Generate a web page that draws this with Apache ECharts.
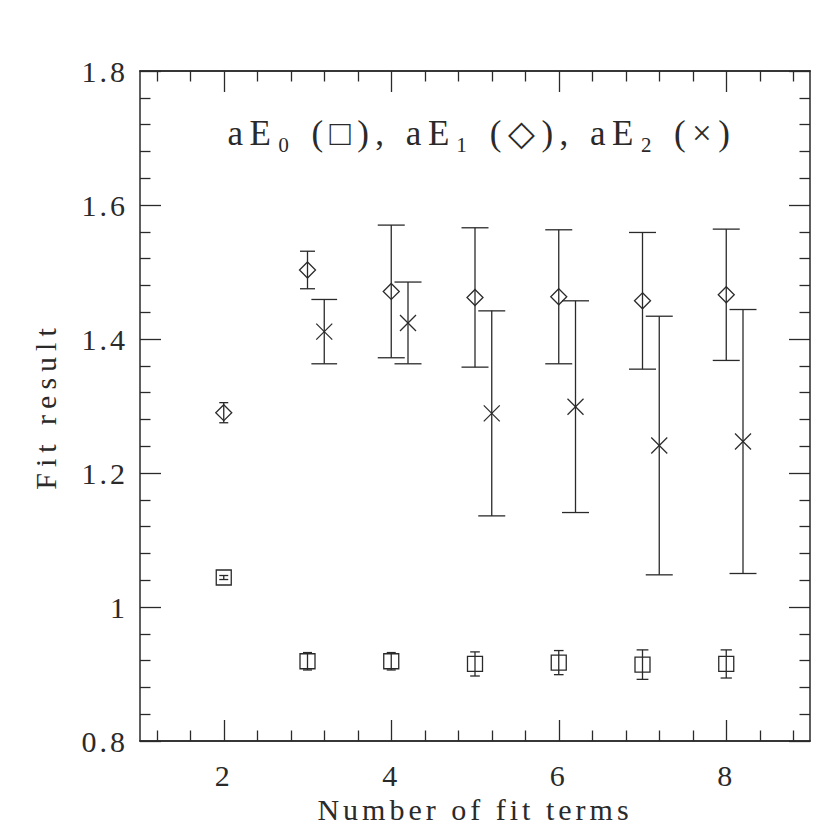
<!DOCTYPE html>
<html><head><meta charset="utf-8">
<script src="https://cdn.jsdelivr.net/npm/echarts@6/dist/echarts.min.js"></script>
<style>html,body{margin:0;padding:0;background:#fff}#c{width:830px;height:830px}</style>
</head><body><div id="c"></div>
<script>
// ---- data ----
const e0Terms = [2, 3, 4, 5, 6, 7, 8];
const e0Val   = [1.044, 0.919, 0.919, 0.915, 0.917, 0.914, 0.915];
const e0Err   = [0.003, 0.013, 0.013, 0.018, 0.018, 0.022, 0.021];

const e1Terms = [2, 3, 4, 5, 6, 7, 8];
const e1Val   = [1.290, 1.503, 1.471, 1.462, 1.463, 1.457, 1.466];
const e1Err   = [0.015, 0.028, 0.099, 0.104, 0.100, 0.102, 0.098];

const e2Terms = [3.2, 4.2, 5.2, 6.2, 7.2, 8.2];
const e2Val   = [1.411, 1.424, 1.289, 1.299, 1.241, 1.247];
const e2Err   = [0.048, 0.061, 0.153, 0.158, 0.193, 0.197];

const xMajorTicks = [2, 4, 6, 8];
const xMinorTicks = [1.2, 1.6, 2.4, 2.8, 3.2, 3.6, 4.4, 4.8, 5.2, 5.6, 6.4, 6.8, 7.2, 7.6, 8.4, 8.8];

const plotTitle = 'aE\u2080 (\u25A1), aE\u2081 (\u25C7), aE\u2082 (\u00D7)';
const xName = 'Number of fit terms';
const yName = 'Fit result';

// ---- chart ----
const FONT = 'Liberation Serif';
const INK = '#2a2a2a';
const chart = echarts.init(document.getElementById('c'), null, {renderer: 'svg'});

function zip(xs, ys, es) { return xs.map((x, i) => [x, ys[i], es[i]]); }

function makeRender(kind) {
  return function (params, api) {
    const x = api.value(0), y = api.value(1), e = api.value(2);
    const c = api.coord([x, y]);
    const t = api.coord([x, y + e]);
    const b = api.coord([x, y - e]);
    const half = (b[1] - t[1]) / 2;
    const cap = Math.max(9, Math.min(27, half * 0.8)) / 2;
    const st = {stroke: INK, lineWidth: 1.3, fill: null};
    const ch = [
      {type: 'line', shape: {x1: c[0], y1: t[1], x2: c[0], y2: b[1]}, style: st},
      {type: 'line', shape: {x1: c[0] - cap, y1: t[1], x2: c[0] + cap, y2: t[1]}, style: st},
      {type: 'line', shape: {x1: c[0] - cap, y1: b[1], x2: c[0] + cap, y2: b[1]}, style: st}
    ];
    if (kind === 'square') {
      ch.push({type: 'rect', shape: {x: c[0] - 7.5, y: c[1] - 7.5, width: 15, height: 15}, style: st});
    } else if (kind === 'diamond') {
      ch.push({type: 'polygon', shape: {points: [[c[0], c[1] - 8], [c[0] + 8, c[1]], [c[0], c[1] + 8], [c[0] - 8, c[1]]]}, style: st});
    } else {
      ch.push({type: 'line', shape: {x1: c[0] - 8, y1: c[1] - 8, x2: c[0] + 8, y2: c[1] + 8}, style: st});
      ch.push({type: 'line', shape: {x1: c[0] - 8, y1: c[1] + 8, x2: c[0] + 8, y2: c[1] - 8}, style: st});
    }
    return {type: 'group', children: ch};
  };
}

const axisLineStyle = {color: INK, width: 1.5};
const tickStyle = {color: INK, width: 1.3};
const labelStyle = {fontFamily: FONT, fontSize: 30, color: INK};

function xAx(pos, ticks, len, withLabels) {
  return {
    type: 'value', position: pos, min: 1, max: 9,
    axisLine: {show: true, onZero: false, lineStyle: axisLineStyle},
    axisTick: {show: true, inside: true, length: len, customValues: ticks, lineStyle: tickStyle},
    axisLabel: withLabels ? Object.assign({show: true, margin: 19, customValues: xMajorTicks}, labelStyle) : {show: false},
    splitLine: {show: false},
    name: withLabels ? xName : '',
    nameLocation: 'middle', nameGap: 49,
    nameTextStyle: Object.assign({}, labelStyle)
  };
}
function yAx(pos, withLabels) {
  return {
    type: 'value', position: pos, min: 0.8, max: 1.8, interval: 0.2,
    axisLine: {show: true, onZero: false, lineStyle: axisLineStyle},
    axisTick: {show: true, inside: true, length: 21, lineStyle: tickStyle},
    minorTick: {show: true, splitNumber: 5, length: 10.5, lineStyle: tickStyle},
    axisLabel: withLabels ? Object.assign({show: true, margin: 12}, labelStyle) : {show: false},
    splitLine: {show: false}, minorSplitLine: {show: false},
    name: withLabels ? yName : '',
    nameLocation: 'middle', nameGap: 80, nameRotate: 90,
    nameTextStyle: Object.assign({}, labelStyle)
  };
}

chart.setOption({
  animation: false,
  backgroundColor: '#fff',
  grid: {left: 140, top: 71, right: 20, bottom: 89, containLabel: false, outerBoundsMode: 'none'},
  xAxis: [
    xAx('bottom', xMajorTicks, 21, true),
    xAx('bottom', xMinorTicks, 10.5, false),
    xAx('top', xMajorTicks, 21, false),
    xAx('top', xMinorTicks, 10.5, false)
  ],
  yAxis: [yAx('left', true), yAx('right', false)],
  graphic: [{
    type: 'text', x: 482, y: 133,
    style: {text: plotTitle, font: '35px "Liberation Serif"', fill: INK, align: 'center', verticalAlign: 'middle'}
  }],
  series: [
    {type: 'custom', name: 'aE0', xAxisIndex: 0, yAxisIndex: 0, renderItem: makeRender('square'),
     data: zip(e0Terms, e0Val, e0Err), encode: {x: 0, y: 1}},
    {type: 'custom', name: 'aE1', xAxisIndex: 0, yAxisIndex: 0, renderItem: makeRender('diamond'),
     data: zip(e1Terms, e1Val, e1Err), encode: {x: 0, y: 1}},
    {type: 'custom', name: 'aE2', xAxisIndex: 0, yAxisIndex: 0, renderItem: makeRender('cross'),
     data: zip(e2Terms, e2Val, e2Err), encode: {x: 0, y: 1}}
  ]
});

// Hershey-style wide letter spacing on the SVG text elements
function spaceText() {
  const els = document.querySelectorAll('#c svg text');
  els.forEach(el => {
    const s = el.textContent;
    let ls = 0;
    if (s === plotTitle) ls = 6.5;
    else if (s === xName) ls = 4;
    else if (s === yName) ls = 6;
    else if (/^[0-9.]+$/.test(s)) ls = 3;
    if (ls) el.setAttribute('letter-spacing', ls);
  });
}
try { chart.getZr().flush(); } catch (e) {}
spaceText();
chart.on('finished', spaceText);
</script>
</body></html>
